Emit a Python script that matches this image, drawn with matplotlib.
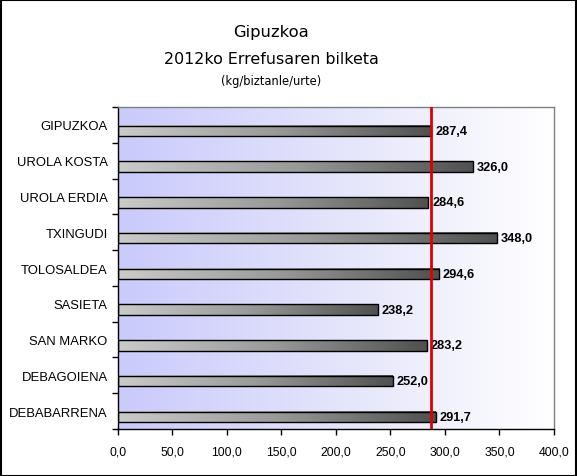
import numpy as np
import matplotlib
matplotlib.use("Agg")
import matplotlib.pyplot as plt
from matplotlib.colors import LinearSegmentedColormap
from matplotlib.patches import Rectangle

categories = ["GIPUZKOA", "UROLA KOSTA", "UROLA ERDIA", "TXINGUDI", "TOLOSALDEA",
              "SASIETA", "SAN MARKO", "DEBAGOIENA", "DEBABARRENA"]
values = [287.4, 326.0, 284.6, 348.0, 294.6, 238.2, 283.2, 252.0, 291.7]
reference = 287.4
xticks = [0, 50, 100, 150, 200, 250, 300, 350, 400]

fig = plt.figure(figsize=(5.77, 4.77), dpi=100)
fig.patch.set_facecolor("white")
# figure border
fig.add_artist(Rectangle((0.001, 0.001), 0.997, 0.997, transform=fig.transFigure,
                         fill=False, edgecolor="black", linewidth=1.5))

ax = fig.add_axes([118/577, 1-430/477, 436/577, 322/477])
n = len(categories)
ax.set_xlim(0, 400)
ax.set_ylim(n - 0.5, -0.5)

# background gradient
bg = LinearSegmentedColormap.from_list("bg", ["#cacafc", "#e4e4fb", "#ffffff"])
grad = np.linspace(0, 1, 256).reshape(1, -1)
ax.imshow(grad, cmap=bg, aspect="auto", extent=[0, 400, n - 0.5, -0.5], zorder=0)

barcm = LinearSegmentedColormap.from_list("bar", ["#cbcbcb", "#9a9a9a", "#505050"])
off = 0.165
h = 0.29
for i, v in enumerate(values):
    y0 = i + off - h/2
    y1 = i + off + h/2
    ax.imshow(grad, cmap=barcm, aspect="auto", extent=[0, v, y1, y0], zorder=2)
    rect = Rectangle((0, y0), v, h, fill=False, edgecolor="black", linewidth=1.0, zorder=3)
    ax.add_patch(rect)
    ax.text(v + 3.5, i + off, f"{v:.1f}".replace(".", ","), va="center", ha="left",
            fontsize=9.2, fontweight="bold", family="Liberation Sans", zorder=4)

ax.axvline(reference, color="#e00000", linewidth=2, zorder=5)

ax.set_xlim(0, 400)
ax.set_ylim(n - 0.5, -0.5)
ax.set_xticks(xticks)
ax.set_xticklabels([f"{t:.1f}".replace(".", ",") for t in xticks],
                   fontsize=8.8, family="Liberation Sans")
ax.set_yticks(range(n))
ax.set_yticklabels(categories, fontsize=9.4, family="Liberation Sans")
ax.tick_params(axis="y", length=0, pad=7.5)
ax.set_yticks([i + 0.5 for i in range(-1, n)], minor=True)
ax.tick_params(axis="y", which="minor", length=4, direction="out", width=1)
ax.tick_params(axis="x", length=4, direction="out", width=1, pad=8)

for s in ["top", "right"]:
    ax.spines[s].set_color("#808080")
    ax.spines[s].set_linewidth(1)
for s in ["left", "bottom"]:
    ax.spines[s].set_color("black")
    ax.spines[s].set_linewidth(1)

cx = 271.5 / 577
fig.text(cx, 1 - 33/477, "Gipuzkoa", ha="center", va="center", fontsize=11.8, family="DejaVu Sans")
fig.text(cx, 1 - 59/477, "2012ko Errefusaren bilketa", ha="center", va="center", fontsize=11.4, family="DejaVu Sans")
fig.text(cx, 1 - 81/477, "(kg/biztanle/urte)", ha="center", va="center", fontsize=8.3, family="DejaVu Sans")

fig.savefig("out.png", dpi=100)
